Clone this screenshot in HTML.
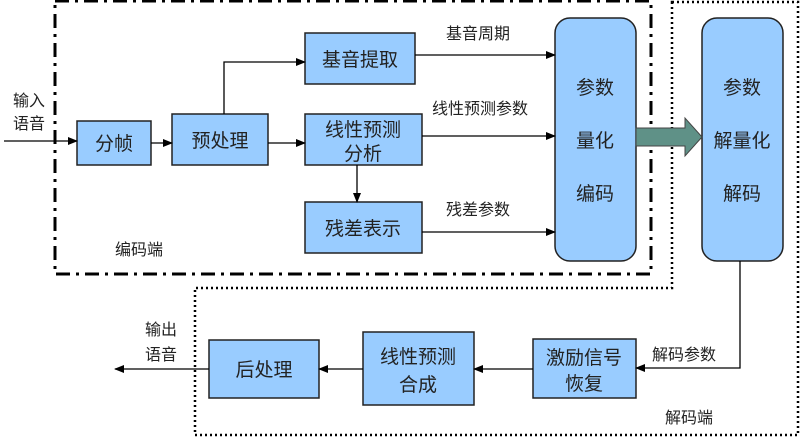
<!DOCTYPE html>
<html><head><meta charset="utf-8"><style>
html,body{margin:0;padding:0;background:#fff;}
svg{display:block;}
text{font-family:"Liberation Sans","Noto Sans CJK SC",sans-serif;fill:#222;}
</style></head><body>
<svg width="800" height="443" viewBox="0 0 800 443" xmlns="http://www.w3.org/2000/svg">
<defs>
<marker id="ah" markerWidth="10" markerHeight="8" refX="9" refY="4" orient="auto" markerUnits="userSpaceOnUse">
<path d="M0,0 L10,4 L0,8 Z" fill="#000"/></marker>
</defs>
<!-- encoder frame -->
<rect x="55" y="1" width="596" height="273" fill="none" stroke="#000" stroke-width="3" stroke-dasharray="14,6,3,6"/>
<!-- decoder frame -->
<path d="M672,2 L798,2 L798,435 L195,435 L195,288 L672,288 Z" fill="none" stroke="#000" stroke-width="2.5" stroke-dasharray="2,3"/>
<!-- boxes -->
<g fill="#99ccff" stroke="#222" stroke-width="1.5">
<rect x="77" y="121" width="74" height="44"/>
<rect x="172" y="114" width="96" height="51"/>
<rect x="305" y="33" width="110" height="51"/>
<rect x="305" y="114" width="117" height="51"/>
<rect x="305" y="202" width="117" height="51"/>
<rect x="555" y="18" width="81" height="243" rx="15"/>
<rect x="702" y="18" width="81" height="243" rx="15"/>
<rect x="533" y="339" width="103" height="59"/>
<rect x="363" y="332" width="111" height="73"/>
<rect x="209" y="340" width="110" height="58"/>
</g>
<!-- big arrow -->
<path d="M636,128 L685,128 L685,118 L702,137 L685,156 L685,146 L636,146 Z" fill="#5f9187" stroke="#444" stroke-width="1"/>
<!-- connectors -->
<g stroke="#000" stroke-width="1.3" fill="none">
<line x1="4" y1="141" x2="77" y2="141" marker-end="url(#ah)"/>
<line x1="151" y1="143" x2="172" y2="143" marker-end="url(#ah)"/>
<polyline points="224,114 224,62 305,62" marker-end="url(#ah)"/>
<line x1="268" y1="143" x2="305" y2="143" marker-end="url(#ah)"/>
<line x1="357" y1="165" x2="357" y2="202" marker-end="url(#ah)"/>
<line x1="415" y1="55" x2="555" y2="55" marker-end="url(#ah)"/>
<line x1="422" y1="136" x2="555" y2="136" marker-end="url(#ah)"/>
<line x1="422" y1="232" x2="555" y2="232" marker-end="url(#ah)"/>
<polyline points="740,261 740,368 636,368" marker-end="url(#ah)"/>
<line x1="533" y1="369" x2="474" y2="369" marker-end="url(#ah)"/>
<line x1="363" y1="369" x2="319" y2="369" marker-end="url(#ah)"/>
<line x1="209" y1="369" x2="115" y2="369" marker-end="url(#ah)"/>
</g>
<!-- box text -->
<g font-size="19" text-anchor="middle">
<text x="114" y="150">分帧</text>
<text x="220" y="147">预处理</text>
<text x="360" y="66">基音提取</text>
<text x="363" y="136">线性预测</text>
<text x="363" y="160">分析</text>
<text x="363" y="235">残差表示</text>
<text x="595" y="94">参数</text>
<text x="595" y="147">量化</text>
<text x="595" y="200">编码</text>
<text x="742" y="94">参数</text>
<text x="742" y="147">解量化</text>
<text x="742" y="200">解码</text>
<text x="584" y="364">激励信号</text>
<text x="584" y="390">恢复</text>
<text x="418" y="363">线性预测</text>
<text x="418" y="391">合成</text>
<text x="264" y="376">后处理</text>
</g>
<!-- labels -->
<g font-size="16">
<text x="13" y="106">输入</text>
<text x="13" y="129">语音</text>
<text x="145" y="335">输出</text>
<text x="145" y="360">语音</text>
<text x="115" y="255">编码端</text>
<text x="665" y="423">解码端</text>
<text x="652" y="360">解码参数</text>
<text x="446" y="39">基音周期</text>
<text x="432" y="114">线性预测参数</text>
<text x="446" y="215">残差参数</text>
</g>
</svg>
</body></html>
